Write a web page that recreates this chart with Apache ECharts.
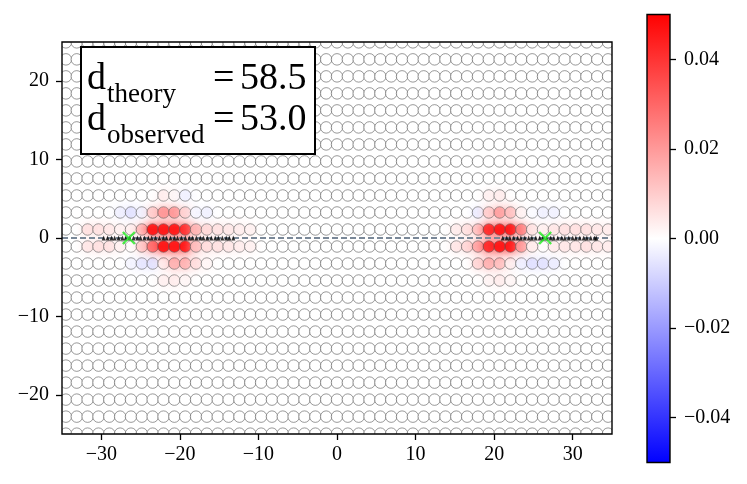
<!DOCTYPE html>
<html><head><meta charset="utf-8">
<script src="https://cdn.jsdelivr.net/npm/echarts@6/dist/echarts.min.js"></script>
<style>html,body{margin:0;padding:0;background:#fff}#c{width:747px;height:484px}</style>
</head><body><div id="c"></div>
<script>
// ---- axes / ticks ----
const xTicks = [-30, -20, -10, 0, 10, 20, 30];
const yTicks = [-20, -10, 0, 10, 20];
const cbTicks = [-0.04, -0.02, 0, 0.02, 0.04];
const xRange = [-35, 35];
const yRange = [-25, 25];
const cRange = [-0.05, 0.05];

// ---- lattice of sites (rows of circles) ----
const siteStep = 1.38;     // spacing of sites along a row
const rowPitch = 2.17;     // spacing between rows
const rowFirst = 1.085;    // centre of the first row above y = 0

// ---- field values: [x, row y, value] ----
const fieldLeft = [
  [-31.74, 1.085, 0.006], [-30.36, 1.085, 0.006], [-28.98, 1.085, 0.005], [-27.60, 1.085, 0.003],
  [-26.22, 1.085, 0.003], [-24.84, 1.085, 0.014], [-23.46, 1.085, 0.05], [-22.08, 1.085, 0.06],
  [-20.70, 1.085, 0.06], [-19.32, 1.085, 0.045], [-17.94, 1.085, 0.016], [-16.56, 1.085, 0.008],
  [-15.18, 1.085, 0.006], [-13.80, 1.085, 0.005], [-12.42, 1.085, 0.004], [-11.04, 1.085, 0.003],
  [-31.74, -1.085, 0.005], [-30.36, -1.085, 0.006], [-28.98, -1.085, 0.006], [-27.60, -1.085, 0.003],
  [-24.84, -1.085, 0.01], [-23.46, -1.085, 0.03], [-22.08, -1.085, 0.06], [-20.70, -1.085, 0.06],
  [-19.32, -1.085, 0.05], [-17.94, -1.085, 0.014], [-16.56, -1.085, 0.007], [-15.18, -1.085, 0.006],
  [-13.80, -1.085, 0.005], [-12.42, -1.085, 0.004], [-11.04, -1.085, 0.003],
  [-27.60, 3.255, -0.003], [-26.22, 3.255, -0.006], [-24.84, 3.255, -0.003], [-23.46, 3.255, 0.01],
  [-22.08, 3.255, 0.022], [-20.70, 3.255, 0.022], [-19.32, 3.255, 0.01], [-17.94, 3.255, -0.002],
  [-16.56, 3.255, -0.003],
  [-26.22, -3.255, -0.002], [-24.84, -3.255, -0.005], [-23.46, -3.255, -0.006], [-22.08, -3.255, 0.004],
  [-20.70, -3.255, 0.016], [-19.32, -3.255, 0.016], [-17.94, -3.255, 0.007], [-16.56, -3.255, 0.002],
  [-22.08, 5.425, 0.004], [-20.70, 5.425, 0.002], [-19.32, 5.425, -0.003],
  [-22.08, -5.425, 0.003], [-20.70, -5.425, 0.004], [-19.32, -5.425, 0.002]
];
const fieldRight = [
  [15.18, 1.085, 0.004], [16.56, 1.085, 0.006], [17.94, 1.085, 0.012], [19.32, 1.085, 0.045],
  [20.70, 1.085, 0.06], [22.08, 1.085, 0.055], [23.46, 1.085, 0.028], [24.84, 1.085, 0.006],
  [26.22, 1.085, 0.003], [27.60, 1.085, 0.005], [28.98, 1.085, 0.006], [30.36, 1.085, 0.006],
  [31.74, 1.085, 0.006], [33.12, 1.085, 0.005], [34.50, 1.085, 0.004],
  [15.18, -1.085, 0.005], [16.56, -1.085, 0.008], [17.94, -1.085, 0.018], [19.32, -1.085, 0.045],
  [20.70, -1.085, 0.06], [22.08, -1.085, 0.06], [23.46, -1.085, 0.022], [24.84, -1.085, 0.004],
  [27.60, -1.085, 0.004], [28.98, -1.085, 0.005], [30.36, -1.085, 0.005], [31.74, -1.085, 0.006],
  [33.12, -1.085, 0.005], [34.50, -1.085, 0.004],
  [17.94, 3.255, -0.004], [19.32, 3.255, 0.01], [20.70, 3.255, 0.02], [22.08, 3.255, 0.014],
  [23.46, 3.255, 0.003], [24.84, 3.255, -0.001], [26.22, 3.255, -0.003], [27.60, 3.255, -0.003],
  [17.94, -3.255, 0.008], [19.32, -3.255, 0.016], [20.70, -3.255, 0.014], [22.08, -3.255, 0.004],
  [23.46, -3.255, -0.003], [24.84, -3.255, -0.006], [26.22, -3.255, -0.006], [27.60, -3.255, -0.004],
  [19.32, 5.425, 0.003], [20.70, 5.425, 0.004],
  [19.32, -5.425, 0.002], [20.70, -5.425, 0.004], [22.08, -5.425, 0.002]
];

// ---- small black marks along y = 0 ----
const marksLeftX = [-29.7, -29.2, -28.7, -28.3, -27.8, -27.3, -26.9, -26.4, -25.9, -25.4, -25.0, -24.5,
  -24.0, -23.6, -23.1, -22.6, -22.1, -21.7, -21.2, -20.7, -20.3, -19.8, -19.3, -18.8, -18.4, -17.9,
  -17.4, -17.0, -16.5, -16.0, -15.5, -15.1, -14.6, -14.1, -13.7, -13.2];
const marksRightX = [21.1, 21.6, 22.0, 22.5, 23.0, 23.4, 23.9, 24.4, 24.8, 25.3, 25.8, 26.2, 26.7,
  27.2, 27.6, 28.1, 28.6, 29.0, 29.5, 30.0, 30.4, 30.9, 31.4, 31.8, 32.3, 32.8, 33.0];
// ---- observed centres (green crosses) ----
const centresX = [-26.5, 26.5];

// ---- build lattice sites ----
const fieldMap = {};
fieldLeft.concat(fieldRight).forEach(([x, y, v]) => {
  const j = Math.round(x / siteStep);
  const k = Math.round((y - rowFirst) / rowPitch);
  fieldMap[j + '_' + k] = v;
});
function bwr(v) {
  let t = (v - cRange[0]) / (cRange[1] - cRange[0]);
  t = Math.max(0, Math.min(1, t));
  let r, g, b;
  if (t < 0.5) { r = g = 2 * t; b = 1; } else { r = 1; g = b = 2 * (1 - t); }
  return 'rgb(' + Math.round(r * 255) + ',' + Math.round(g * 255) + ',' + Math.round(b * 255) + ')';
}
const plainSites = [], colouredSites = [];
for (let k = -13; k <= 12; k++) {
  const y = rowFirst + k * rowPitch;
  if (Math.abs(y) > 26.5) continue;
  for (let j = -26; j <= 26; j++) {
    const x = j * siteStep;
    const v = fieldMap[j + '_' + k];
    if (v === undefined) plainSites.push([x, y]);
    else colouredSites.push({ value: [x, y, v], itemStyle: { color: bwr(v), shadowColor: bwr(v), shadowBlur: 10 } });
  }
}

const serif = 'Liberation Serif';
const fmt = v => (v < 0 ? '\u2212' : '') + Math.abs(v);
const tf = (s) => s + 'px "Liberation Serif"';
// plot area in px (for masking overflow of circles outside the axes box)
const P = { l: 62, t: 42, r: 612, b: 434 };
const mask = (x, y, w, h) => ({ type: 'rect', shape: { x, y, width: w, height: h }, z: 8, silent: true,
  style: { fill: '#fff' } });
const chart = echarts.init(document.getElementById('c'));
chart.setOption({
  animation: false,
  grid: [
    { left: P.l, right: 747 - P.r, top: P.t, bottom: 484 - P.b, show: true, borderColor: '#000', borderWidth: 1.4, z: 10 },
    { left: 647, width: 23, top: 14.5, height: 448 }
  ],
  xAxis: [
    { type: 'value', min: xRange[0], max: xRange[1], gridIndex: 0, z: 12,
      axisLine: { show: false, onZero: false }, splitLine: { show: false },
      axisTick: { show: true, customValues: xTicks, length: 6, lineStyle: { color: '#000', width: 1.3 } },
      axisLabel: { customValues: xTicks, formatter: fmt, color: '#000', fontFamily: serif, fontSize: 20, margin: 11 } },
    { type: 'value', gridIndex: 1, show: false, min: 0, max: 1 }
  ],
  yAxis: [
    { type: 'value', min: yRange[0], max: yRange[1], gridIndex: 0, z: 12,
      axisLine: { show: false, onZero: false }, splitLine: { show: false },
      axisTick: { show: true, customValues: yTicks, length: 6, lineStyle: { color: '#000', width: 1.3 } },
      axisLabel: { customValues: yTicks, formatter: fmt, color: '#000', fontFamily: serif, fontSize: 20, margin: 13 } },
    { type: 'value', min: cRange[0], max: cRange[1], gridIndex: 1, position: 'right', z: 12,
      axisLine: { show: false, onZero: false }, splitLine: { show: false },
      axisTick: { show: true, customValues: cbTicks, length: 6, lineStyle: { color: '#000', width: 1.3 } },
      axisLabel: { customValues: cbTicks, formatter: v => (v < -1e-9 ? '\u2212' : '') + Math.abs(v).toFixed(2),
        color: '#000', fontFamily: serif, fontSize: 20, margin: 14 } }
  ],
  series: [
    { type: 'scatter', data: plainSites, symbolSize: 11.5, clip: true, silent: true, z: 2,
      itemStyle: { color: '#fff', borderColor: '#5e5e5e', borderWidth: 0.8 } },
    { type: 'scatter', data: colouredSites, symbolSize: 11.5, clip: true, silent: true, z: 3,
      itemStyle: { borderColor: '#5e5e5e', borderWidth: 0.8 } },
    { type: 'line', data: [[xRange[0], 0], [xRange[1], 0]], symbol: 'none', z: 4, silent: true,
      lineStyle: { color: '#7a8898', width: 1.8, type: [6, 3] } },
    { type: 'scatter', data: marksLeftX.concat(marksRightX).map(x => [x, 0]), symbol: 'triangle',
      symbolSize: [4, 5], z: 5, silent: true, itemStyle: { color: '#000' } },
    { type: 'scatter', data: centresX.map(x => [x, 0]), symbol: 'path://M0,0L10,10M10,0L0,10',
      symbolSize: 12, z: 6, silent: true, itemStyle: { color: 'none', borderColor: '#22ee22', borderWidth: 2.2 } }
  ],
  graphic: [
    mask(P.l - 20, P.t - 20, P.r - P.l + 40, 20),
    mask(P.l - 20, P.b, P.r - P.l + 40, 20),
    mask(P.l - 20, P.t, 20, P.b - P.t),
    mask(P.r, P.t, 20, P.b - P.t),
    { type: 'rect', shape: { x: 647, y: 14.5, width: 23, height: 448 }, z: 9,
      style: { fill: new echarts.graphic.LinearGradient(0, 0, 0, 1, [
        { offset: 0, color: '#ff0000' }, { offset: 0.5, color: '#ffffff' }, { offset: 1, color: '#0000ff' }]),
        stroke: '#000', lineWidth: 1.4 } },
    { type: 'rect', shape: { x: 81, y: 47, width: 234, height: 107 }, z: 20,
      style: { fill: '#fff', stroke: '#000', lineWidth: 2 } },
    { type: 'text', x: 87, y: 79.5, z: 21, style: { text: 'd', font: tf(38), verticalAlign: 'middle', fill: '#000' } },
    { type: 'text', x: 107, y: 95, z: 21, style: { text: 'theory', font: tf(27), verticalAlign: 'middle', fill: '#000' } },
    { type: 'text', x: 213, y: 79.5, z: 21, style: { text: '=', font: tf(38), verticalAlign: 'middle', fill: '#000' } },
    { type: 'text', x: 240, y: 79.5, z: 21, style: { text: '58.5', font: tf(38), verticalAlign: 'middle', fill: '#000' } },
    { type: 'text', x: 87, y: 120.5, z: 21, style: { text: 'd', font: tf(38), verticalAlign: 'middle', fill: '#000' } },
    { type: 'text', x: 107, y: 136, z: 21, style: { text: 'observed', font: tf(27), verticalAlign: 'middle', fill: '#000' } },
    { type: 'text', x: 213, y: 120.5, z: 21, style: { text: '=', font: tf(38), verticalAlign: 'middle', fill: '#000' } },
    { type: 'text', x: 240, y: 120.5, z: 21, style: { text: '53.0', font: tf(38), verticalAlign: 'middle', fill: '#000' } }
  ]
});
</script></body></html>
